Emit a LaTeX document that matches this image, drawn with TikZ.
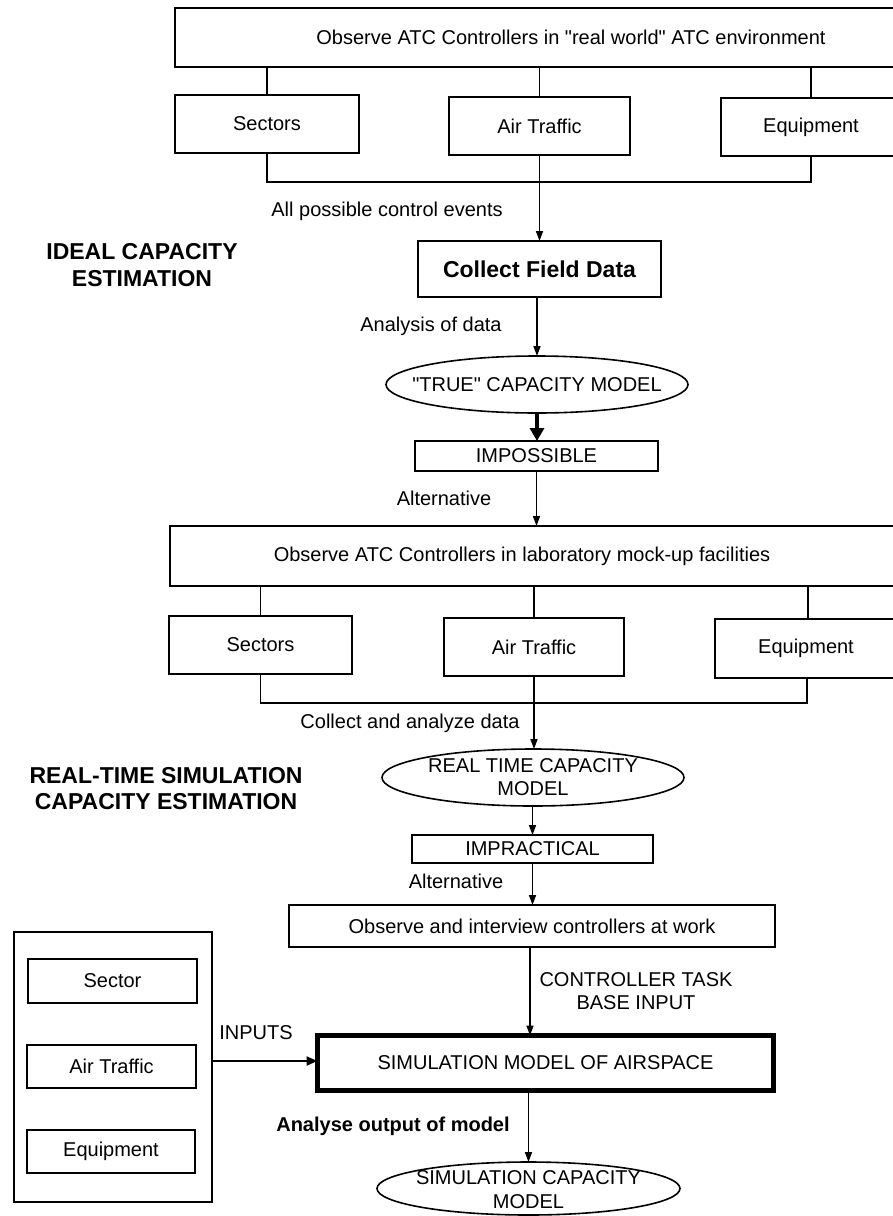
\documentclass[tikz,border=0pt]{standalone}
\usepackage{fontspec}
\setmainfont{Liberation Sans}[Ligatures=TeXOff]
\usetikzlibrary{shapes.geometric,arrows.meta}
\begin{document}
\begin{tikzpicture}[x=1pt,y=-1pt,
  every node/.style={font=\fontsize{20}{22}\selectfont, inner sep=0pt, outer sep=0pt},
  box/.style={draw, line width=1.6pt, rectangle},
  oval/.style={draw, line width=1.6pt, ellipse, minimum width=302pt, minimum height=57pt},
  conn/.style={line width=1.6pt},
  arr/.style={line width=1.6pt, -{Triangle[length=10pt,width=7pt]}},
  heading/.style={font=\fontsize{23}{26.5}\selectfont\bfseries, align=center},
  twoline/.style={align=center, font=\fontsize{20}{23}\selectfont},
]
\useasboundingbox (0,0) rectangle (893,1216);
\clip (0,0) rectangle (893,1216);
\fill[white] (0,0) rectangle (893,1216);

% ---------------- Ideal capacity estimation ----------------
\node[box, minimum width=792pt, minimum height=59pt] (top) at (571,37.5) {Observe ATC Controllers in "real world" ATC environment};
\node[box, minimum width=184pt, minimum height=58pt] (s1) at (267,124) {Sectors};
\node[box, minimum width=181pt, minimum height=58pt] (a1) at (539.5,126) {Air Traffic};
\node[box, minimum width=180pt, minimum height=58pt] (e1) at (811,127) {Equipment};
\coordinate (br1) at (0,182);
\draw[conn] (s1.north) -- (s1.north |- top.south);
\draw[conn] (a1.north) -- (a1.north |- top.south);
\draw[conn] (e1.north) -- (e1.north |- top.south);
\draw[conn] (s1.south) -- (s1.south |- br1) -- (e1.south |- br1) -- (e1.south);

\node (l1) at (387,211) {All possible control events};
\node[draw, line width=2.2pt, minimum width=243pt, minimum height=56pt, font=\fontsize{23}{26}\selectfont\bfseries] (cfd) at (539.5,269) {Collect Field Data};
\draw[arr] (a1.south) -- (a1.south |- cfd.north);

\node[heading] (h1) at (142,265) {IDEAL CAPACITY\\ESTIMATION};

\node (l2) at (431,326) {Analysis of data};
\node[oval] (true) at (537,384.5) {};
\node (truetxt) at (537,384.5) {"TRUE" CAPACITY MODEL};
\draw[arr] (true.north |- cfd.south) -- (true.north);

\node[box, minimum width=243pt, minimum height=30pt] (imp) at (536.5,456) {IMPOSSIBLE};
\draw[line width=3.5pt, -{Triangle[length=13pt,width=14pt]}] (true.south) -- (true.south |- imp.north);

\node (l3) at (444,498) {Alternative};

% ---------------- Real-time simulation ----------------
\node[box, minimum width=730pt, minimum height=60pt] (lab) at (535,556) {};
\node (labtxt) at (522,556) {Observe ATC Controllers in laboratory mock-up facilities};
\draw[arr] (imp.south) -- (imp.south |- lab.north);

\node[box, minimum width=183pt, minimum height=58pt] (s2) at (260.5,645) {Sectors};
\node[box, minimum width=180pt, minimum height=58pt] (a2) at (534,647) {Air Traffic};
\node[box, minimum width=182pt, minimum height=59pt] (e2) at (806,648.5) {Equipment};
\coordinate (br2) at (0,703);
\draw[conn] (s2.north) -- (s2.north |- lab.south);
\draw[conn] (a2.north) -- (a2.north |- lab.south);
\draw[conn] ([xshift=2pt]e2.north) -- ([xshift=2pt]e2.north |- lab.south);
\draw[conn] (s2.south) -- (s2.south |- br2) -- ([xshift=1pt]e2.south |- br2) -- ([xshift=1pt]e2.south);

\node (l4) at (410,723) {Collect and analyze data};
\node[oval] (rt) at (533,777.5) {};
\node[twoline] (rttxt) at (533,777) {REAL TIME CAPACITY\\MODEL};
\draw[arr] (a2.south) -- (a2.south |- rt.north);

\node[heading] (h2) at (166,788.5) {REAL-TIME SIMULATION\\CAPACITY ESTIMATION};

\node[box, minimum width=241pt, minimum height=28pt] (imp2) at (532.5,849) {IMPRACTICAL};
\draw[arr] (rt.south -| imp2.north) -- (imp2.north);
\node (l5) at (456,881) {Alternative};

\node[box, minimum width=486pt, minimum height=42pt] (obs) at (532,926) {Observe and interview controllers at work};
\draw[arr] (imp2.south) -- (imp2.south |- obs.north);

% ---------------- Simulation ----------------
\node[draw, line width=5pt, minimum width=456pt, minimum height=55pt] (sim) at (545.5,1063) {SIMULATION MODEL OF AIRSPACE};
\draw[arr] ([xshift=-2pt]obs.south) -- ([xshift=-2pt]obs.south |- sim.north);
\node[twoline] (l6) at (636,991) {CONTROLLER TASK\\BASE INPUT};

\node[draw, line width=2.2pt, minimum width=198pt, minimum height=270pt] (outer) at (113,1067) {};
\node[box, minimum width=169pt, minimum height=44pt] (s3) at (112.5,981) {Sector};
\node[box, minimum width=169pt, minimum height=43pt] (a3) at (111.5,1066.5) {Air Traffic};
\node[box, minimum width=168pt, minimum height=43pt] (e3) at (111,1151.5) {Equipment};

\coordinate (iny) at (0,1061);
\draw[line width=2.2pt, -{Triangle[length=11pt,width=9pt]}] (outer.east |- iny) -- (sim.west |- iny);
\node (l7) at (256,1033) {INPUTS};

\node[font=\fontsize{20}{22}\selectfont\bfseries] (l8) at (393,1126) {Analyse output of model};
\node[draw, line width=1.6pt, ellipse, minimum width=303pt, minimum height=53pt] (sc) at (528.5,1188.5) {};
\node[twoline, font=\fontsize{20}{24}\selectfont] (sctxt) at (528.5,1190) {SIMULATION CAPACITY\\MODEL};
\draw[arr] (sc.north |- sim.south) -- (sc.north);
\end{tikzpicture}
\end{document}
